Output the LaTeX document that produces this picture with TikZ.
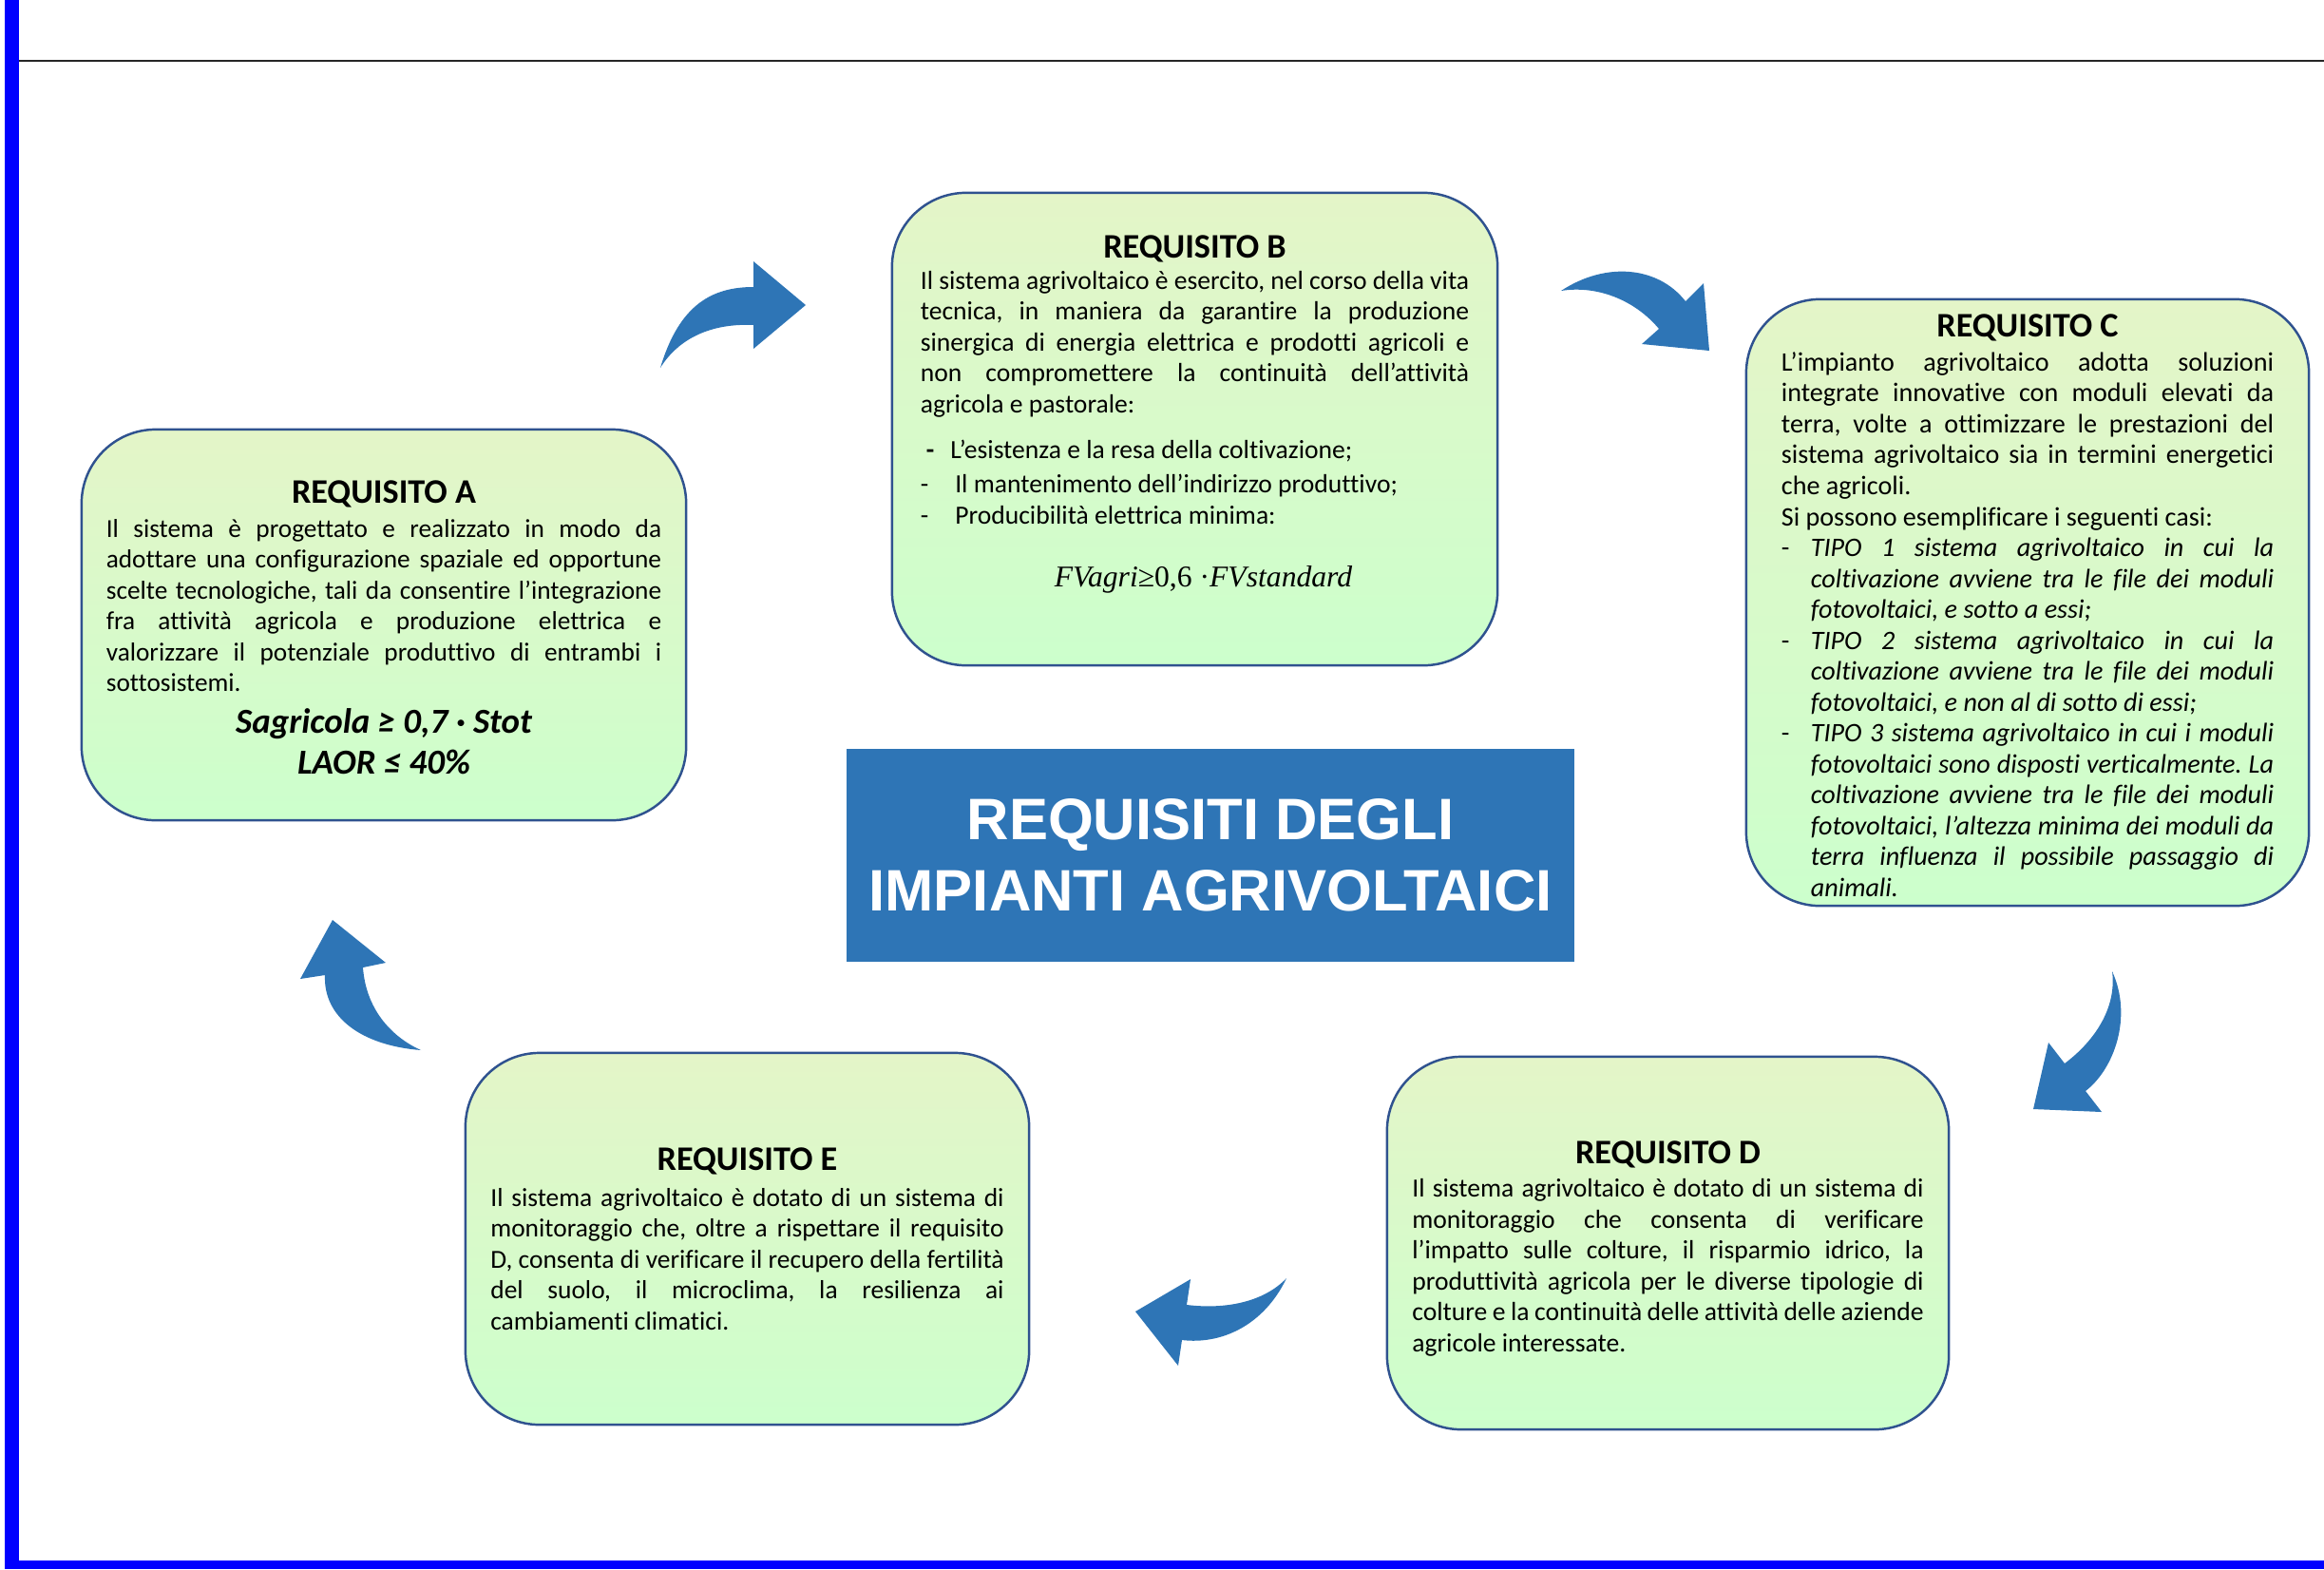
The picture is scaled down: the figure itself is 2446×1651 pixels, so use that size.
\documentclass[tikz,border=0pt]{standalone}
\usepackage{fontspec}
\setmainfont{Carlito}[Ligatures={TeX,NoCommon}]
\newfontfamily\headfont{Liberation Sans}
\newfontfamily\formfont{Liberation Serif}
\usepackage{xcolor}
\usepackage{tikz}
\usetikzlibrary{positioning}

\definecolor{reqblue}{RGB}{46,117,182}
\definecolor{reqedge}{RGB}{47,82,143}
\definecolor{reqtop}{RGB}{228,245,200}
\definecolor{reqbot}{RGB}{204,255,204}
\definecolor{framebl}{RGB}{0,0,255}

\frenchspacing
\newcommand{\reqhead}{\centering\fontsize{10.3}{12}\selectfont\bfseries}
\newcommand{\reqbody}[1]{\fontsize{#1}{9.25}\selectfont\frenchspacing\hyphenpenalty=10000\tolerance=9999\relax}
\newcommand{\tipoitem}[1]{\par\hangindent=0.31cm\hangafter=1\noindent\makebox[0.31cm][l]{-}\textit{#1}\par}
\newcommand{\reqtail}[1]{\par\vspace{#1}\hrule height 0pt width 0pt}

\begin{document}
\begin{tikzpicture}[
  x=0.01cm, y=-0.01cm,
  reqbox/.style={draw=reqedge, line width=0.7pt, rounded corners=0.78cm,
    top color=reqtop, middle color=reqbot!80!reqtop, bottom color=reqbot,
    inner sep=0pt, align=justify, font=\reqbody{#1}},
  maintitle/.style={fill=reqblue, text=white, inner sep=0pt, align=center,
    minimum width=7.66cm, minimum height=2.24cm,
    font=\headfont\bfseries\fontsize{17.5}{21.3}\selectfont},
  bendarrow/.style={fill=reqblue, draw=none}
]
\useasboundingbox (0,0) rectangle (2446,1651);
% page frame
\fill[framebl] (5,0) rectangle (20,1651);
\fill[framebl] (5,1642) rectangle (2446,1651);
\draw[black!85, line width=0.6pt] (20,64) -- (2446,64);

% central title
\node[maintitle] (title) at (1274,900) {REQUISITI DEGLI\\IMPIANTI AGRIVOLTAICI};

% requirement boxes
\node[reqbox=7.76pt, minimum width=6.36cm, minimum height=4.11cm, text width=5.84cm] (reqA) at (404,657.5) {%
  {\reqhead\rule{0pt}{8.5pt}REQUISITO A\par}\vspace{0.8pt}
  Il sistema è progettato e realizzato in modo da\linebreak
  adottare una configurazione spaziale ed opportune\linebreak
  scelte tecnologiche, tali da consentire l’integrazione\linebreak
  fra attività agricola e produzione elettrica e\linebreak
  valorizzare il potenziale produttivo di entrambi i\linebreak
  sottosistemi.\par
  {\centering\fontsize{10.5}{12.4}\selectfont\bfseries\itshape
   Sagricola ≥ 0,7 · Stot\\ LAOR ≤ 40\%\par}};

\node[reqbox=7.85pt, minimum width=6.37cm, minimum height=4.97cm, text width=5.77cm] (reqB) at (1257.5,451.5) {%
  {\reqhead REQUISITO B\par}
  Il sistema agrivoltaico è esercito, nel corso della vita\linebreak
  tecnica, in maniera da garantire la produzione\linebreak
  sinergica di energia elettrica e prodotti agricoli e\linebreak
  non compromettere la continuità dell’attività\linebreak
  agricola e pastorale:\par
  \vspace{4.5pt}
  \hspace*{0.06cm}\textbf{-}\hspace{0.17cm}L’esistenza e la resa della coltivazione;\par
  \vspace{1pt}
  -\hspace{0.28cm}Il mantenimento dell’indirizzo produttivo;\par
  -\hspace{0.28cm}Producibilità elettrica minima:\par
  \vspace{6.7pt}
  {\centering\formfont\fontsize{9}{12}\selectfont
   \hspace*{0.18cm}{\itshape FVagri}≥0,6 ·{\itshape FVstandard}\par}
  \reqtail{0.31cm}};

\node[reqbox=8pt, minimum width=5.92cm, minimum height=6.38cm, text width=5.18cm] (reqC) at (2134,634) {%
  {\reqhead\rule{0pt}{8.5pt}REQUISITO C\par}\vspace{1pt}
  L’impianto agrivoltaico adotta soluzioni\linebreak
  integrate innovative con moduli elevati da\linebreak
  terra, volte a ottimizzare le prestazioni del\linebreak
  sistema agrivoltaico sia in termini energetici\linebreak
  che agricoli.\par
  Si possono esemplificare i seguenti casi:
  \tipoitem{TIPO 1 sistema agrivoltaico in cui la\linebreak
    coltivazione avviene tra le file dei moduli\linebreak
    fotovoltaici, e sotto a essi;}
  \tipoitem{TIPO 2 sistema agrivoltaico in cui la\linebreak
    coltivazione avviene tra le file dei moduli\linebreak
    fotovoltaici, e non al di sotto di essi;}
  \tipoitem{TIPO 3 sistema agrivoltaico in cui i moduli\linebreak
    fotovoltaici sono disposti verticalmente. La\linebreak
    coltivazione avviene tra le file dei moduli\linebreak
    fotovoltaici, l’altezza minima dei moduli da\linebreak
    terra influenza il possibile passaggio di\linebreak
    animali.}};

\node[reqbox=7.85pt, minimum width=5.91cm, minimum height=3.92cm, text width=5.38cm] (reqD) at (1755.5,1308) {%
  {\reqhead\rule{0pt}{10.2pt}REQUISITO D\par}\vspace{0.6pt}
  Il sistema agrivoltaico è dotato di un sistema di\linebreak
  monitoraggio che consenta di verificare\linebreak
  l’impatto sulle colture, il risparmio idrico, la\linebreak
  produttività agricola per le diverse tipologie di\linebreak
  colture e la continuità delle attività delle aziende\linebreak
  agricole interessate.\par};

\node[reqbox=7.8pt, minimum width=5.93cm, minimum height=3.91cm, text width=5.40cm] (reqE) at (786.5,1303.5) {%
  {\reqhead REQUISITO E\par}\vspace{1.5pt}
  Il sistema agrivoltaico è dotato di un sistema di\linebreak
  monitoraggio che, oltre a rispettare il requisito\linebreak
  D, consenta di verificare il recupero della fertilità\linebreak
  del suolo, il microclima, la resilienza ai\linebreak
  cambiamenti climatici.\par};

% curved block arrows between the boxes
\fill[bendarrow] (695,387) .. controls (715,320) and (750,302) .. (793,302) -- (793,275) -- (848,321)
  -- (793,367) -- (793,342) .. controls (750,340) and (715,355) .. (695,387) -- cycle;
\fill[bendarrow] (1643,306) .. controls (1690,275) and (1745,280) .. (1774,317) -- (1793,298) -- (1799,369)
  -- (1728,362) -- (1746,346) .. controls (1720,315) and (1680,300) .. (1643,306) -- cycle;
\fill[bendarrow] (2223,1022) .. controls (2245,1070) and (2225,1125) .. (2195,1148) -- (2212,1170) -- (2140,1167)
  -- (2156,1097) -- (2173,1119) .. controls (2205,1095) and (2228,1060) .. (2223,1022) -- cycle;
\fill[bendarrow] (1354,1345) .. controls (1330,1395) and (1285,1415) .. (1244,1410) -- (1240,1437) -- (1195,1380)
  -- (1253,1346) -- (1249,1373) .. controls (1290,1378) and (1330,1370) .. (1354,1345) -- cycle;
\fill[bendarrow] (443,1105) .. controls (380,1100) and (340,1070) .. (342,1026) -- (316,1030) -- (350,968)
  -- (406,1013) -- (382,1018) .. controls (385,1060) and (410,1090) .. (443,1105) -- cycle;
\end{tikzpicture}
\end{document}
